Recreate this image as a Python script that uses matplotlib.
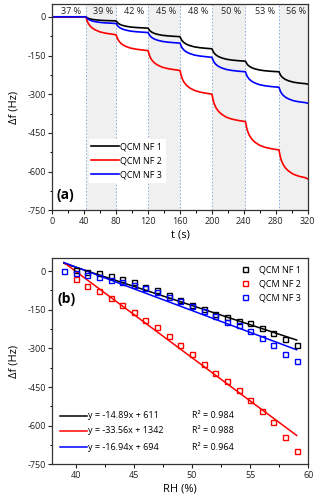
import numpy as np
import matplotlib
matplotlib.use('Agg')
import matplotlib.pyplot as plt

plt.rcParams['font.family'] = ['Open Sans', 'DejaVu Sans']
plt.rcParams['axes.unicode_minus'] = False
plt.rcParams['font.size'] = 6.5

# ---- panel (a): time response ----
step_times = [42, 80, 120, 160, 200, 242, 284]
t_end = 320
rh_labels = ['37 %', '39 %', '42 %', '45 %', '48 %', '50 %', '53 %', '56 %']

# level reached at the end of each humidity step (Hz)
levels_nf1 = [0, -16, -44, -77, -124, -172, -213, -261]
levels_nf2 = [0, -70, -131, -208, -300, -406, -516, -628]
levels_nf3 = [0, -26, -61, -102, -157, -213, -273, -335]

# shape of one step response (s after step, fraction done)
resp_dt = [0, 1, 2, 3, 5, 8, 12, 18, 25, 33, 42]
resp_frac = [0, 0.14, 0.27, 0.36, 0.49, 0.62, 0.73, 0.84, 0.91, 0.96, 1.0]

# ---- panel (b): RH vs shift ----
rh_nf1 = list(range(40, 60))
df_nf1 = [4, -3, -9, -19, -30, -42, -61, -75, -94, -114, -132, -148, -168,
          -179, -192, -202, -220, -240, -264, -287]
rh_nf2 = list(range(40, 60))
df_nf2 = [-29, -56, -76, -103, -131, -159, -188, -218, -251, -286, -322,
          -359, -397, -427, -462, -499, -542, -586, -645, -698]
rh_nf3 = list(range(39, 60))
df_nf3 = [0, -9, -14, -24, -33, -44, -52, -65, -81, -100, -116, -136, -153,
          -175, -196, -210, -233, -260, -286, -320, -350]

fit_slope = [-14.89, -33.56, -16.94]
fit_icpt = [611, 1342, 694]
fit_r2 = ['0.984', '0.988', '0.964']

names = ['QCM NF 1', 'QCM NF 2', 'QCM NF 3']
colors = ['black', '#ff0000', '#0000ff']


def build_curve(levels):
    bounds = [0] + step_times + [t_end]
    ts, ys = [0], [levels[0]]
    for i in range(1, len(levels)):
        start, stop = bounds[i], bounds[i + 1]
        prev, new = levels[i - 1], levels[i]
        for dt, fr in zip(resp_dt, resp_frac):
            if start + dt > stop:
                break
            ts.append(start + dt)
            ys.append(prev + (new - prev) * fr)
        if ts[-1] < stop:
            ts.append(stop)
            ys.append(new)
    return ts, ys


def style_axes(ax):
    for s in ax.spines.values():
        s.set_linewidth(0.9)
        s.set_color('#333333')
    ax.tick_params(direction='out', length=3, width=0.8, labelsize=6.5,
                   pad=1.5, colors='#222222')
    ax.tick_params(which='minor', direction='out', length=1.8, width=0.7)


fig = plt.figure(figsize=(3.2, 5.01), dpi=100)

# ---------------- (a) ----------------
ax1 = fig.add_axes([0.1635, 0.5802, 0.798, 0.412])
bounds = [0] + step_times + [t_end]
for i in range(1, len(bounds) - 1, 2):
    ax1.axvspan(bounds[i], bounds[i + 1], facecolor='#f0f0f0',
                edgecolor='#8aa6dc', linestyle=(0, (1.5, 2)), linewidth=0.7,
                zorder=0)
for i, lab in enumerate(rh_labels):
    ax1.text((bounds[i] + bounds[i + 1]) / 2 + 3, 20, lab, ha='center',
             va='center', fontsize=6.5, color='#222222')

for levels, name, c in zip([levels_nf1, levels_nf2, levels_nf3], names, colors):
    ts, ys = build_curve(levels)
    ax1.plot(ts, ys, color=c, lw=1.2, label=name)

ax1.set_xlim(0, 320)
ax1.set_ylim(-750, 50)
ax1.set_xticks(np.arange(0, 321, 40))
ax1.set_xticks(np.arange(20, 320, 40), minor=True)
ax1.set_yticks(np.arange(-750, 1, 150))
ax1.set_yticks(np.arange(-675, 50, 150), minor=True)
style_axes(ax1)
ax1.set_xlabel('t (s)', fontsize=8, labelpad=3)
ax1.set_ylabel('Δf (Hz)', fontsize=8, labelpad=6)
leg = ax1.legend(loc='upper left', bbox_to_anchor=(0.125, 0.365),
                 frameon=True, fancybox=False, framealpha=1,
                 edgecolor='white', handlelength=3.0, handletextpad=0.15,
                 labelspacing=0.55, borderpad=0.3, fontsize=6.5)
ax1.text(0.015, 0.04, '(a)', transform=ax1.transAxes, fontsize=10,
         fontweight='bold', ha='left', va='bottom')

# ---------------- (b) ----------------
ax2 = fig.add_axes([0.1635, 0.0733, 0.8, 0.4112])
xfit = np.array([39, 59])
for sl, ic, c in zip(fit_slope, fit_icpt, colors):
    ax2.plot(xfit, sl * xfit + ic, color=c, lw=1.1, zorder=2)
for rh, df, name, c in zip([rh_nf1, rh_nf2, rh_nf3], [df_nf1, df_nf2, df_nf3],
                           names, colors):
    ax2.plot(rh, df, ls='none', marker='s', ms=3.6, mew=1.0, mfc='none',
             mec=c, label=name, zorder=3)

ax2.set_xlim(38, 60)
ax2.set_ylim(-750, 50)
ax2.set_xticks(np.arange(40, 61, 5))
ax2.set_xticks(np.arange(42.5, 60, 5), minor=True)
ax2.set_yticks(np.arange(-750, 1, 150))
ax2.set_yticks(np.arange(-675, 50, 150), minor=True)
style_axes(ax2)
ax2.set_xlabel('RH (%)', fontsize=8, labelpad=3)
ax2.set_ylabel('Δf (Hz)', fontsize=8, labelpad=6)
ax2.legend(loc='upper right', bbox_to_anchor=(1.0, 1.0), frameon=False,
           handlelength=1.2, handletextpad=1.0, labelspacing=0.55,
           borderaxespad=0.4, fontsize=6.5)
ax2.text(0.02, 0.8, '(b)', transform=ax2.transAxes, fontsize=10,
         fontweight='bold', ha='left', va='center')

row_y = [0.236, 0.162, 0.083]
for sl, ic, r2, c, yy in zip(fit_slope, fit_icpt, fit_r2, colors, row_y):
    ax2.plot([0.03, 0.136], [yy, yy], color=c, lw=1.1,
             transform=ax2.transAxes)
    ax2.text(0.141, yy, f'y = {sl:.2f}x + {ic}', transform=ax2.transAxes,
             va='center', ha='left', fontsize=6.5)
    ax2.text(0.547, yy, f'R² = {r2}', transform=ax2.transAxes,
             va='center', ha='left', fontsize=6.5)

fig.savefig('out.png', dpi=100)
